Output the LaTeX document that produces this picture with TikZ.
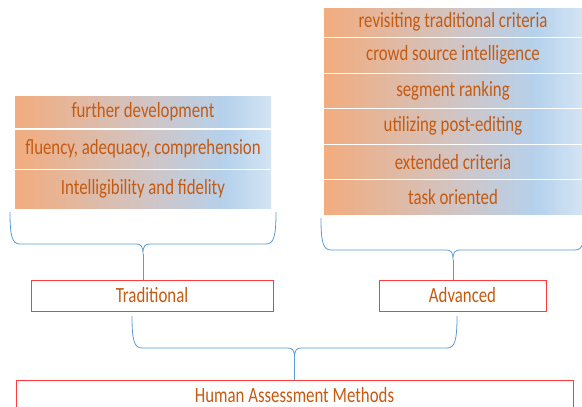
\documentclass[tikz,border=0pt]{standalone}
\usepackage{fontspec}
\setmainfont{Carlito}
\newfontfamily\critfont[FakeStretch=0.775]{Carlito}
\usetikzlibrary{positioning}
\definecolor{txtor}{HTML}{C55A11}
\definecolor{gor}{HTML}{F2AC7E}
\definecolor{gmid}{HTML}{D2C4C2}
\definecolor{gbl}{HTML}{B5D1EC}
\definecolor{gbl2}{HTML}{D3E4F4}
\definecolor{brblue}{HTML}{5B9BD5}
\definecolor{bxred}{HTML}{FF3B3B}
\pgfdeclarehorizontalshading{orblue}{100bp}{color(0bp)=(gor); color(25bp)=(gor); color(50bp)=(gmid); color(66bp)=(gbl); color(75bp)=(gbl2); color(100bp)=(gbl2)}

\begin{document}
\begin{tikzpicture}[x=1pt,y=-1pt,
  crit/.style={shade,shading=orblue,inner sep=0pt,text=txtor,font=\critfont\fontsize{21.7}{24}\selectfont},
  catbox/.style={draw=bxred,line width=1pt,inner sep=0pt,minimum height=31pt,text=txtor,font=\critfont\fontsize{21.7}{24}\selectfont},
  bracepath/.style={draw=brblue,line width=0.8pt}]
\clip (0,0) rectangle (582,407);

\node[crit,minimum width=256pt,minimum height=31pt] (further) at (143,111.5) {further development};
\node[crit,minimum width=256pt,minimum height=38pt] (fluency) at (143,149) {fluency, adequacy, comprehension};
\node[crit,minimum width=256pt,minimum height=37.5pt] (intel) at (143,189.25) {Intelligibility and fidelity};

\node[crit,minimum width=258pt,minimum height=28pt] (revisit) at (453,22) {revisiting traditional criteria};
\node[crit,minimum width=258pt,minimum height=33.5pt] (crowd) at (453,55.25) {crowd source intelligence};
\node[crit,minimum width=258pt,minimum height=33.5pt] (segment) at (453,90.75) {segment ranking};
\node[crit,minimum width=258pt,minimum height=33.5pt] (postedit) at (453,126.25) {utilizing post-editing};
\node[crit,minimum width=258pt,minimum height=33.5pt] (extended) at (453,161.75) {extended criteria};
\node[crit,minimum width=258pt,minimum height=33.5pt] (task) at (453,197.25) {task oriented};

\node[catbox,minimum width=242pt] (trad) at (152,295.5) {Traditional};
\node[catbox,minimum width=167pt] (adv) at (462.5,295.5) {Advanced};
\node[catbox,minimum width=557pt] (ham) at (294.5,395.5) {Human Assessment Methods};

\coordinate (ltip) at (143,254);
\coordinate (rtip) at (453,260);
\coordinate (btip) at (294.5,358);

\draw[bracepath] (10,212) .. controls (10,236) and (12,244) .. (20,244) -- (136,244)
  .. controls (141,244) and (143,246) .. (ltip) .. controls (143,246) and (145,244) .. (150,244)
  -- (266,244) .. controls (274,244) and (276,236) .. (276,212);
\draw[bracepath] (ltip) -- (ltip |- trad.north);

\draw[bracepath] (321,218) .. controls (321,242) and (323,250) .. (331,250) -- (446,250)
  .. controls (451,250) and (453,252) .. (rtip) .. controls (453,252) and (455,250) .. (460,250)
  -- (575,250) .. controls (583,250) and (585,242) .. (585,218);
\draw[bracepath] (rtip) -- (rtip |- adv.north);

\draw[bracepath] (132,316) .. controls (132,340) and (134,348) .. (142,348) -- (287.5,348)
  .. controls (292.5,348) and (294.5,350) .. (btip) .. controls (294.5,350) and (296.5,348) .. (301.5,348)
  -- (447,348) .. controls (455,348) and (457,340) .. (457,316);
\draw[bracepath] (btip) -- (btip |- ham.north);
\end{tikzpicture}
\end{document}
